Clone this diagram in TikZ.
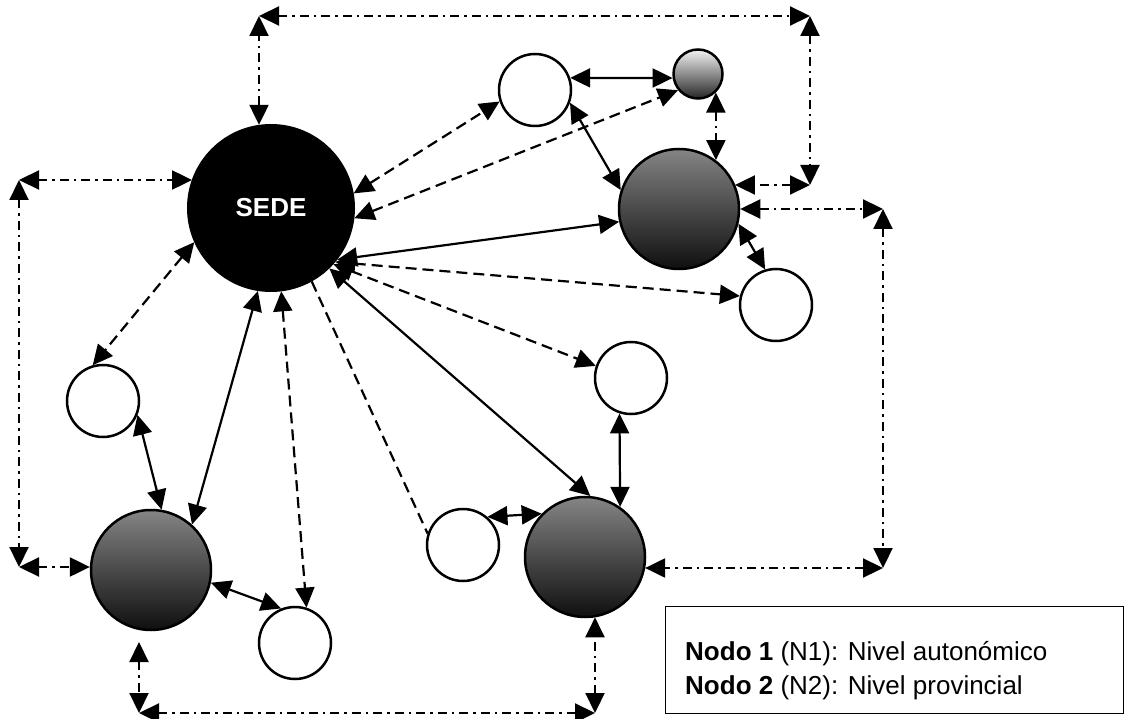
\documentclass[tikz,border=0pt]{standalone}
\usepackage{fontspec}
\setmainfont{Liberation Sans}
\usetikzlibrary{arrows.meta}
\definecolor{gtop}{gray}{0.52}
\definecolor{gbot}{gray}{0.06}
\definecolor{stop}{gray}{0.95}
\definecolor{sbot}{gray}{0.15}
\tikzset{
  twoway/.style={arrows={Triangle[length=20pt,width=19pt]-Triangle[length=20pt,width=19pt]}},
  wnode/.style={circle, draw=black, fill=white, line width=2.5pt, inner sep=0pt, outer sep=1.25pt, minimum size=72pt},
  gnode/.style={circle, draw=black, line width=2.5pt, inner sep=0pt, outer sep=1.25pt, minimum size=120pt, top color=gtop, bottom color=gbot},
  snode/.style={circle, draw=black, line width=2.5pt, inner sep=0pt, outer sep=1.25pt, minimum size=49pt, top color=stop, bottom color=sbot},
  conn/.style={line width=2.2pt, twoway},
  dsh/.style={line width=2.2pt, dash pattern=on 11pt off 6pt},
  dd/.style={line width=2.2pt, twoway, dash pattern=on 9pt off 5pt on 2.5pt off 5pt},
}
\begin{document}
\begin{tikzpicture}[x=1pt,y=-1pt]
\useasboundingbox (0,0) rectangle (1124,719);
% nodes
\node[circle, fill=black, inner sep=0pt, outer sep=0pt, minimum size=168pt, text=white,
      font=\fontsize{26}{30}\selectfont\bfseries] (sede) at (271,208) {SEDE};
\node[wnode] (topW) at (535,90) {};
\node[snode] (small) at (698,74) {};
\node[gnode] (bigR) at (679,209) {};
\node[wnode] (rightW) at (776,305) {};
\node[wnode] (midW) at (631,378) {};
\node[gnode] (bigB) at (585,557) {};
\node[wnode] (botMW) at (463,545) {};
\node[wnode] (leftW) at (103,401) {};
\node[gnode] (bigL) at (151,570) {};
\node[wnode] (botW) at (295,643) {};
% corner coordinates
\coordinate (c1) at (259,16);
\coordinate (c2) at (810,16);
\coordinate (c3) at (810,185);
\coordinate (c4) at (883,209);
\coordinate (c5) at (883,568);
\coordinate (c6) at (19,180);
\coordinate (c7) at (19,567);
\coordinate (d1) at (139,642);
\coordinate (c8) at (139,713);
\coordinate (c9) at (595,713);
% dash-dot loops
\draw[dd] (c1 |- sede.98) -- (c1);
\draw[dd] (c1) -- (c2);
\draw[dd] (c2) -- (c3);
\draw[dd] (c3) -- (c3 -| bigR.24);
\draw[dd] (small.-46) -- (small.-46 |- bigR.53);
\draw[dd] (bigR.east) -- (c4);
\draw[dd] (c4) -- (c5);
\draw[dd] (c5) -- (c5 -| bigB.-11);
\draw[dd] (c6) -- (c6 -| sede.160);
\draw[dd] (c6) -- (c7);
\draw[dd] (c7) -- (c7 -| bigL.177);
\draw[dd] (d1) -- (c8);
\draw[dd] (c8) -- (c9);
\draw[dd] (c9) -- (c9 |- bigB.-80);
% dashed connectors
\draw[dsh, twoway] (sede.10) -- (topW.198);
\draw[dsh, twoway] (sede.-7) -- (small.219);
\draw[dsh, twoway] (sede.-40) -- (rightW.166);
\draw[dsh, twoway] (sede.-42) -- (midW.161);
\draw[dsh] (sede.-61) -- (botMW.162);
\draw[dsh, twoway] (sede.-83) -- (botW.72);
\draw[dsh, twoway] (sede.204) -- (leftW.106);
% solid connectors
\draw[conn] (topW.19) -- (small.189);
\draw[conn] (topW.-20) -- (bigR.162);
\draw[conn] (sede.-38) -- (bigR.192);
\draw[conn] (sede.-46) -- (bigB.85);
\draw[conn] (sede.-99) -- (bigL.48);
\draw[conn] (leftW.-22) -- (bigL.80);
\draw[conn] (bigL.-12) -- (botW.112);
\draw[conn] (botMW.49) -- (bigB.135);
\draw[conn] (midW.-108) -- (bigB.55);
\draw[conn] (bigR.-14) -- (rightW.107);
% legend box
\node[draw=black, line width=1.3pt, anchor=north west, inner sep=0pt, minimum width=458pt, minimum height=107pt] (box) at (665,606) {};
\begin{scope}
\clip (665,606) rectangle (1123,699);
\node[anchor=base west, inner sep=0pt, font=\fontsize{26}{30}\selectfont] (t1) at (685,660) {\textbf{Nodo 1} (N1): Nivel autonómico};
\node[anchor=base west, inner sep=0pt, font=\fontsize{26}{30}\selectfont] (t2) at (685,694) {\textbf{Nodo 2} (N2): Nivel provincial};
\end{scope}
\end{tikzpicture}
\end{document}
